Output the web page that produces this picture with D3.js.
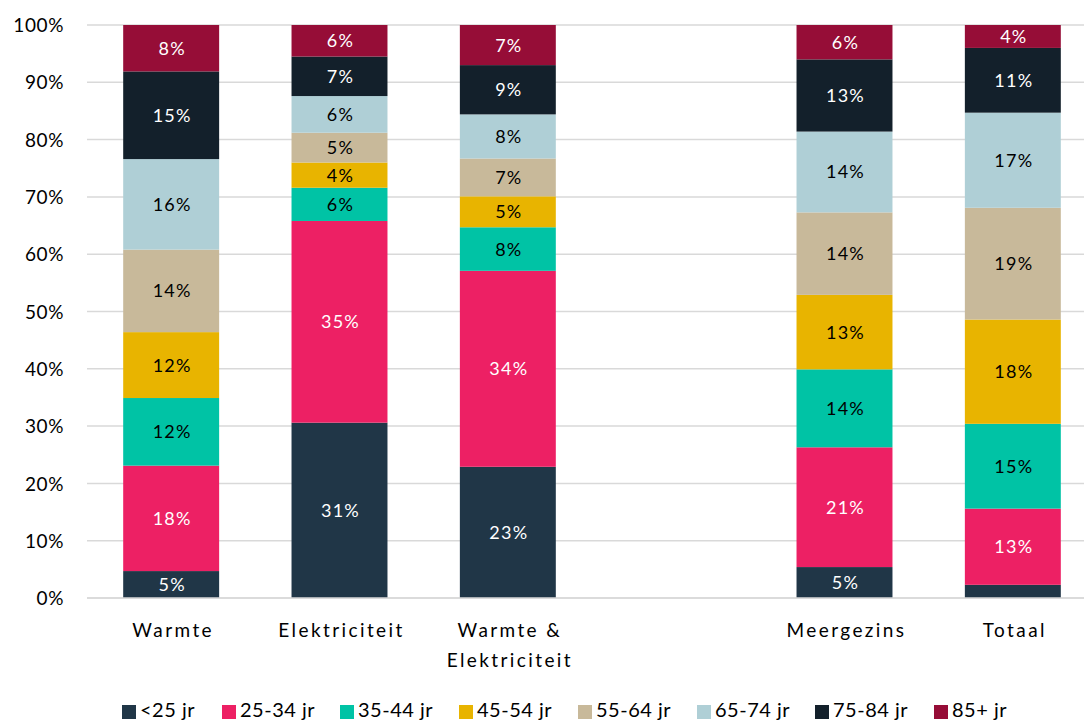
<!DOCTYPE html>
<html><head><meta charset="utf-8">
<script src="https://cdn.jsdelivr.net/npm/d3@7"></script>
<style>body{margin:0;background:#fff}svg{display:block}</style>
</head><body><svg id="c" width="1084" height="721"></svg>
<script>
const categories = ["Warmte", "Elektriciteit", "Warmte & Elektriciteit", "", "Meergezins", "Totaal"];
const seriesNames = ["<25 jr", "25-34 jr", "35-44 jr", "45-54 jr", "55-64 jr", "65-74 jr", "75-84 jr", "85+ jr"];
const colors = ["#203647", "#ED2064", "#00C3A5", "#E8B400", "#C8B99A", "#AFCFD6", "#13202B", "#960D37"];
const labelColors = ["#fff", "#fff", "#000", "#000", "#000", "#000", "#fff", "#fff"];
// values per series, by category (percent)
const s_lt25   = [4.7, 30.6, 22.9, null, 5.4, 2.3];
const s_25_34  = [18.4, 35.2, 34.2, null, 20.9, 13.3];
const s_35_44  = [11.8, 5.8, 7.6, null, 13.6, 14.8];
const s_45_54  = [11.5, 4.4, 5.4, null, 13.0, 18.2];
const s_55_64  = [14.4, 5.2, 6.6, null, 14.4, 19.5];
const s_65_74  = [15.8, 6.4, 7.7, null, 14.1, 16.6];
const s_75_84  = [15.3, 6.9, 8.6, null, 12.6, 11.3];
const s_85plus = [8.1, 5.5, 7.0, null, 6.0, 4.0];
const yTicks = [0, 10, 20, 30, 40, 50, 60, 70, 80, 90, 100];
const seriesVals = [s_lt25, s_25_34, s_35_44, s_45_54, s_55_64, s_65_74, s_75_84, s_85plus];

const svg = d3.select("#c");
const font = "Lato, 'Open Sans', sans-serif";
const x = d3.scaleBand().domain(d3.range(categories.length)).range([87, 1097]).paddingInner(0.43).paddingOuter(0.215);
const y = d3.scaleLinear().domain([0, 100]).range([598, 25]);

// gridlines
svg.append("g").selectAll("line").data(yTicks).join("line")
  .attr("x1", 87).attr("x2", 1084).attr("y1", d => y(d)).attr("y2", d => y(d))
  .attr("stroke", "#d9d9d9").attr("stroke-width", 1.5);

// y axis labels
const yAxis = d3.axisLeft(y).tickValues(yTicks).tickFormat(d => d + "%").tickSize(0).tickPadding(0);
const ga = svg.append("g").attr("transform", "translate(64,0)").call(yAxis);
ga.select(".domain").remove();
ga.selectAll("text").attr("font-family", font).attr("font-size", 19).attr("letter-spacing", 0.6)
  .attr("fill", "#000").attr("dy", "0.35em");

// stacked data
const rows = categories.map((c, i) => {
  const r = {i};
  seriesNames.forEach((s, k) => r[s] = seriesVals[k][i] || 0);
  return r;
});
const stack = d3.stack().keys(seriesNames)(rows);

const g = svg.append("g");
stack.forEach((layer, k) => {
  const lg = g.append("g");
  lg.selectAll("rect").data(layer.filter(d => d[1] > d[0])).join("rect")
    .attr("x", d => x(d.data.i)).attr("width", x.bandwidth())
    .attr("y", d => y(d[1])).attr("height", d => y(d[0]) - y(d[1]))
    .attr("fill", colors[k]);
  lg.selectAll("text").data(layer.filter(d => d[1] - d[0] >= 3.5)).join("text")
    .attr("x", d => x(d.data.i) + x.bandwidth() / 2 + 1)
    .attr("y", d => y((d[0] + d[1]) / 2))
    .attr("dy", "0.36em").attr("text-anchor", "middle")
    .attr("font-family", font).attr("font-size", 18).attr("letter-spacing", 1.2).attr("fill", labelColors[k])
    .text(d => Math.round(d[1] - d[0]) + "%");
});

// baseline
svg.append("line").attr("x1", 87).attr("x2", 1084).attr("y1", y(0)).attr("y2", y(0))
  .attr("stroke", "#d9d9d9").attr("stroke-width", 1.5);

// category labels
const cl = svg.append("g");
categories.forEach((c, i) => {
  if (!c) return;
  const lines = c === "Warmte & Elektriciteit" ? ["Warmte &", "Elektriciteit"] : [c];
  const t = cl.append("text").attr("text-anchor", "middle").attr("font-family", font)
    .attr("font-size", 19).attr("letter-spacing", 2.4).attr("fill", "#000");
  lines.forEach((ln, j) => t.append("tspan").attr("x", x(i) + x.bandwidth() / 2 + 2).attr("y", 637 + j * 30).text(ln));
});

// legend
const lx = [122, 222, 340, 459, 578, 697, 815, 934];
const lg = svg.append("g");
seriesNames.forEach((s, k) => {
  lg.append("rect").attr("x", lx[k]).attr("y", 705).attr("width", 14).attr("height", 14).attr("fill", colors[k]);
  lg.append("text").attr("x", lx[k] + 18).attr("y", 717).attr("font-family", font).attr("font-size", 20)
    .attr("letter-spacing", 0.5).attr("fill", "#000").text(s);
});
</script></body></html>
